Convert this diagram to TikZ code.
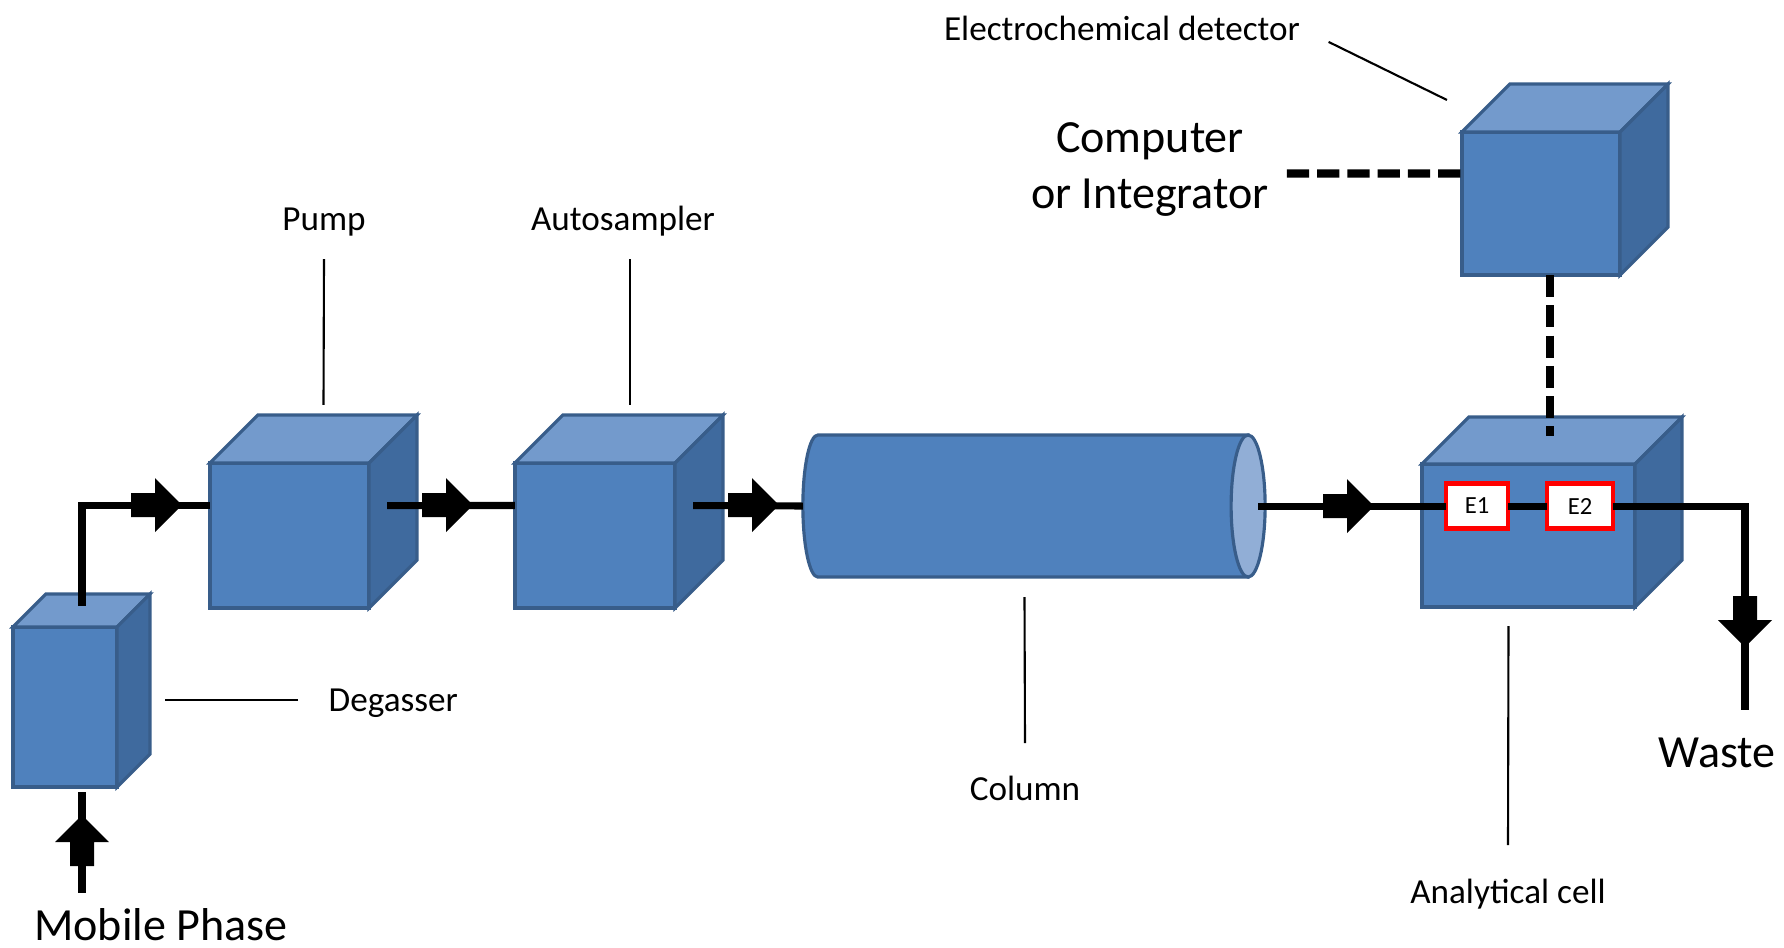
\documentclass[tikz,border=0pt]{standalone}
\usepackage{fontspec}
\setmainfont{Carlito}
\usepackage{tikz}
\definecolor{boxfront}{RGB}{79,129,189}
\definecolor{boxtop}{RGB}{115,154,204}
\definecolor{boxside}{RGB}{63,106,158}
\definecolor{boxedge}{RGB}{56,93,138}
\definecolor{colcap}{RGB}{145,174,214}
\tikzset{
  unit/.style={draw=boxedge, line width=0.9pt, fill=boxfront, inner sep=0pt, outer sep=0pt},
  flow/.style={line width=2pt},
  leader/.style={line width=0.6pt},
  link/.style={line width=2.3pt, dash pattern=on 6.3pt off 2.3pt},
  lbl/.style={font=\fontsize{10}{12}\selectfont, inner sep=0pt},
  biglbl/.style={font=\fontsize{13.1}{15.9}\selectfont, inner sep=0pt, align=center},
  electrode/.style={draw=red, line width=1.2pt, fill=white, inner sep=0pt, outer sep=0pt, minimum height=0.45cm, font=\fontsize{7}{8}\selectfont},
  blockarrow/.pic={\fill (0,-12) -- (24,-12) -- (24,-27) -- (51,0) -- (24,27) -- (24,12) -- (0,12) -- cycle;}
}
\newcommand{\cubefaces}[2]{%
  \draw[unit, fill=boxtop] (#1.north west) -- ++(#2,-#2) -- ([shift={(#2,-#2)}]#1.north east) -- (#1.north east) -- cycle;
  \draw[unit, fill=boxside] (#1.north east) -- ++(#2,-#2) -- ([shift={(#2,-#2)}]#1.south east) -- (#1.south east) -- cycle;}

\begin{document}
\begin{tikzpicture}[x=0.01cm, y=-0.01cm]
  \useasboundingbox (0,0) rectangle (1784,947);

  \node[unit, minimum width=1.04cm, minimum height=1.60cm] (degasser) at (65,707) {};
  \cubefaces{degasser}{33}
  \node[unit, minimum width=1.59cm, minimum height=1.45cm] (pump) at (289.5,535.5) {};
  \cubefaces{pump}{48}
  \node[unit, minimum width=1.60cm, minimum height=1.45cm] (autosampler) at (595,535.5) {};
  \cubefaces{autosampler}{48}
  \node[unit, minimum width=2.13cm, minimum height=1.43cm] (cell) at (1528.5,535.5) {};
  \cubefaces{cell}{47}
  \node[unit, minimum width=1.58cm, minimum height=1.43cm] (detector) at (1541,203.5) {};
  \cubefaces{detector}{48}

  \node[minimum width=4.45cm, minimum height=1.42cm, inner sep=0pt, outer sep=0pt] (column) at (1025.5,506) {};
  \draw[unit] (column.north east) -- ([shift={(15,0)}]column.north west)
    arc[start angle=90, end angle=270, x radius=0.15cm, y radius=0.71cm] -- (column.south east) -- cycle;
  \draw[unit, fill=colcap] (column.east) ellipse[x radius=0.17cm, y radius=0.71cm];

  \coordinate (wasteend) at (1745,710);
  \draw[flow] ([shift={(17,5)}]degasser.south) -- ++(0,101);
  \draw[flow] ([shift={(17,-181)}]degasser.south) |- ([yshift=3mm]pump.west);
  \draw[flow] ([shift={(18,-30)}]pump.east) -- ([yshift=3mm]autosampler.west);
  \draw[flow] ([shift={(18,-30)}]autosampler.east) -- (column.west);
  \node[electrode, minimum width=0.62cm] (e1) at (1477,506) {E1};
  \node[electrode, minimum width=0.66cm] (e2) at (1580,506) {E2};
  \draw[flow] ([shift={(10,0)}]column.east) -- (e1.west);
  \draw[flow] (e1.east) -- (e2.west);
  \draw[flow] (e2.east) -| (wasteend);

  \pic at (131,505) {blockarrow};
  \pic at (422,505) {blockarrow};
  \pic at (728,505) {blockarrow};
  \pic at (1323,506) {blockarrow};
  \pic[rotate=90] at (82,866) {blockarrow};
  \pic[rotate=-90] at (1745,596) {blockarrow};

  \draw[link] ([shift={(-175,-30)}]detector.west) -- ([yshift=3mm]detector.west);
  \draw[link] ([xshift=0.09cm]detector.south) -- ++(0,161);

  \node[biglbl, anchor=base] (mobile) at (161,940) {Mobile Phase};
  \node[biglbl, anchor=base] (waste) at (1717,767) {Waste};
  \node[biglbl, anchor=base] (computer) at (1150,208) {Computer\\or Integrator};

  \node[lbl, anchor=base] (pumplbl) at (324,230) {Pump};
  \node[lbl, anchor=base] (autolbl) at (623,230) {Autosampler};
  \node[lbl, anchor=west] (deglbl) at (328,703) {Degasser};
  \node[lbl, anchor=base] (columnlbl) at (1025,800) {Column};
  \node[lbl, anchor=base] (celllbl) at (1508,903) {Analytical cell};
  \node[lbl, anchor=base] (detlbl) at (1122,40) {Electrochemical detector};

  \draw[leader] ([yshift=-0.29cm]pumplbl.base) -- ([shift={(34,-58)}]pump.north);
  \draw[leader] ([shift={(7,29)}]autolbl.base) -- ([shift={(35,-58)}]autosampler.north);
  \draw[leader] ([shift={(-30,-3)}]deglbl.west) -- ([shift={(48,-7)}]degasser.east);
  \draw[leader] ([shift={(0,-57)}]columnlbl.base) -- ([shift={(-1,20)}]column.south);
  \draw[leader] ([shift={(0,-58)}]celllbl.base) -- ([shift={(-20,19)}]cell.south);
  \draw[leader] ([shift={(28,14)}]detlbl.east) -- ([shift={(-15,-32)}]detector.north west);
\end{tikzpicture}
\end{document}
